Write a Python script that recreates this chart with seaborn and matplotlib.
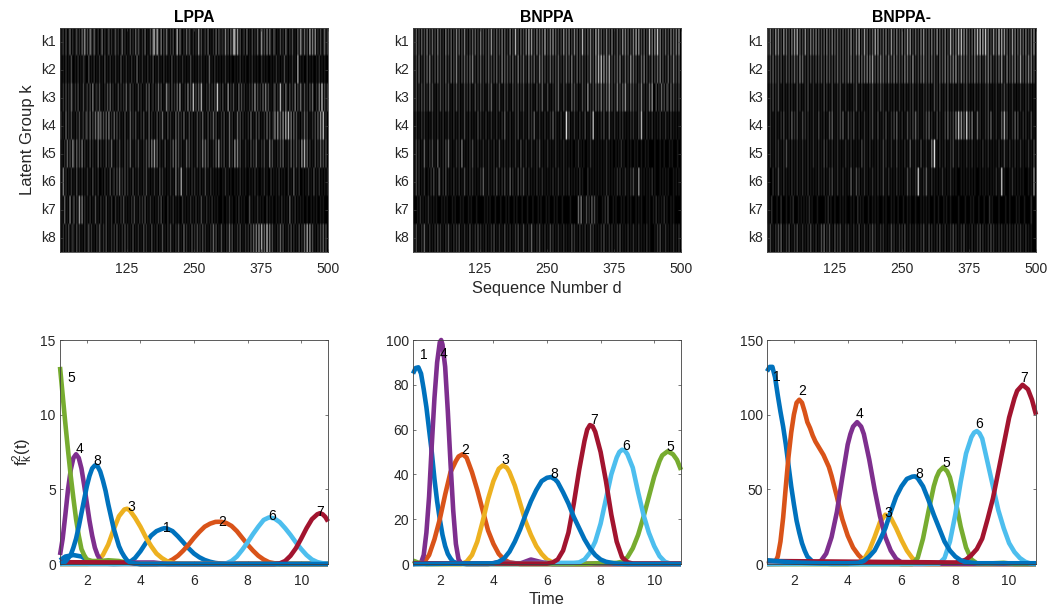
import numpy as np
import matplotlib
matplotlib.use("Agg")
import matplotlib.pyplot as plt
import seaborn as sns

sns.set_style("white")
plt.rcParams["font.family"] = ["Liberation Sans", "DejaVu Sans"]
plt.rcParams["mathtext.default"] = "regular"

TXT = "#262626"
COLORS = ["#0072BD", "#D95319", "#EDB120", "#7E2F8E", "#77AC30", "#4DBEEE", "#A2142F", "#0072BD"]
row_names = ["k1", "k2", "k3", "k4", "k5", "k6", "k7", "k8"]
d_ticks = [125, 250, 375, 500]
time_ticks = [2, 4, 6, 8, 10]

# brightness, one digit per 2.5 sequence numbers
lppa_rows = [
    "0120301402 0130204160 3052041020 1402013020 1302014020 1030204031 0204010305 6072050304 1020301704 1020403102 0206030120 4010204031 1205030406 7060301204 0103020401 6030504103 2010302041 0203010405 2040307050 6020301402",
    "1010201030 0102010210 0301020102 0103010201 0201030102 0102010401 0201020103 0102010201 0103010201 0201010301 0102020101 0401020101 0102010100 1010201010 0102010100 2010100101 0201010301 0102010701 0100201010 0102010100",
    "1020302041 0203010301 2030501203 0102030402 0103020204 0130201030 2010304012 0204030105 1203020406 0102050308 0304070102 0302030802 0301060203 0104030201 0203060302 0405030102 3020702041 0302050304 1030203040 0205080302",
    "3010402030 1020301203 2040304052 4030405020 4030201030 1040203010 2030104020 1030204010 3020104030 2040103020 1030204010 3020403010 2030104020 1040302010 2040103030 1020403012 5060406070 7050403010 2040301020 3040608020",
    "0102040305 2040305020 1030201040 2010302040 1020301030 2040102030 1020304050 6040201030 1020405030 2010403020 1030205040 3010204060 2030104020 6050301020 1030204010 2030105030 1020304010 2040303020 6070402010 3020403030",
    "1050201020 1030102010 2010301020 0102010301 2030402030 2010301020 1020301010 2010302010 1020105020 7010201020 2010201030 1020101010 0102010100 1010201010 0101020100 1020100201 0102010100 2010401020 0101020103 0102010101",
    "0104010501 3020605020 1020103010 2010301020 0201020301 0102030102 0203010201 0102030100 2010201010 0201010201 0201030102 0102010100 0100102010 0102010100 0301010201 0100201010 0101020101 0401020101 0100100101 0100101000",
    "1020203012 1030201020 1302010203 1020301020 2030102030 2010301020 1030201030 1020103010 2030102030 1040201030 2030203020 1020403010 3010204030 1020301020 2030405060 7040805030 1020403010 2030201030 2040706030 1020304030",
]
bnppa_rows = [
    "3040304030 5030403050 3020503040 3050403050 2030404030 5030304060 3040305040 2050307030 4030507060 3050404070 3050604030 3060405030 5040307030 4050307060 4030503050 2040306050 4030507060 3040307050 6080503040 3050405060",
    "2030402030 4050203040 3020402040 3050203040 3040502030 4020304030 3040205040 3030402050 3040205030 4020504030 2040303040 2030403050 2040303020 3050306070 8060507030 3040502040 3060403020 4050302040 3040503020 4030503040",
    "2030203030 2040301020 3020303010 2030201030 2030103020 3020103040 1020301030 2010302030 2030103020 1030204010 3010203040 1030201040 3020103020 6020304030 5030406030 2050304060 2040302030 5020204060 0302040303 2040302030",
    "1020102020 1010201020 1020102010 2010201030 1020101030 2010201020 1020102040 1020102030 1020103020 4010201020 1020402010 2010903010 2010201030 1020801010 2030104010 2010202010 1020201030 7010201020 1010201020 1020101010",
    "1030201040 1020301040 1020304010 1020205010 1020301020 1020102010 2010301020 1020102010 3010201020 1020301010 2010102010 1020101010 0102010100 1020101010 1010201010 0101020100 1010010100 1001010000 1000100100 0101000100",
    "1030201020 0102030104 1020301010 2010201030 1020201010 2040102010 2030102030 1040201030 2030102010 1020102010 1010201020 1020102010 1010201000 2010101010 1010201010 1020201020 1020301060 1010101020 1000101010 1000101010",
    "0001020101 0201010100 0101010001 0100010100 0101000100 0001010100 0100010001 0100010100 0100010001 0001010001 0100010100 0100000100 0004050103 0204030100 0102030001 0100010100 1010001010 1000101001 0201010201 0010100000",
    "2030102040 1020102030 2010203010 2020301020 1030102030 2010201020 3010201030 1020102030 1030102040 1020301020 1030201020 1020101030 2010201020 1030201010 2030102020 1020301010 2010201020 1010201000 1020301020 1010201020",
]
bnppa2_rows = [
    "4050306050 3060403050 6070403060 3050405040 3040503050 4040304030 4060305070 3060403040 7060304050 3060405030 5040606030 4030506030 4050306040 3050307040 5070806050 3040607080 7080503060 4080706040 3060504050 4050305060",
    "2030403030 3020303030 4030504020 3030203030 3030403030 3040304030 4050303050 4040505060 3040504030 5030504030 3050403060 2030405030 4040302040 3050404050 6030504040 3030503040 2040504020 3040602050 3040503060 3040505030",
    "1020302030 1020102020 1030201020 3010201020 1030201030 1020301020 1010203010 2010102030 1020302010 2010201020 1020102030 1020102020 2010302030 1020301020 1020102030 1010201020 1020301010 2010203020 1020101020 1020201010",
    "1020102010 2030102040 2030103020 2010201030 1020103040 1020304010 3020301020 1020102030 1030102030 1020304010 2010302030 4020102030 4020103020 1030402030 5080604090 3050104020 1020304010 2010407030 1020403010 2020103010",
    "1020102020 1020301020 1020102010 2010201020 1030201020 1020101020 1020101010 3020102010 1020103020 1020103010 1020104010 2010301020 1050901020 1020102030 1020101020 1020101010 2010201010 1020103010 2010201020 1010201030",
    "0100201030 1020101020 1020102010 2010101020 1020102030 1020102010 1040103020 1020101020 1020103010 2010102010 1010302010 2080102040 1020101010 2010102010 1000101010 1010100010 1010101010 2010801000 1020101010 1000101060",
    "0102000100 2000100102 0001010101 0201000100 0001020100 1000101010 0010100201 0100010010 1010001010 0010100100 0100101000 1000101010 1000100100 0101001000 0010000100 0101000100 0100020100 0010000100 1000010100 0100002000",
    "2030102030 4010203010 2030102010 2030102010 3040203010 3020301020 2010201030 1020102030 2010202010 1030201020 2030102010 2010203010 3020102030 1020102030 2010203010 1020102030 2010203020 1020201020 2010202020 1020101000",
]

# LPPA curves
l_t1 = [1, 1.2, 1.5, 1.8, 2.1, 2.4, 3, 3.4, 3.6, 3.8, 4, 4.2, 4.4, 4.6, 4.8, 4.9, 5, 5.2, 5.4, 5.6, 5.8, 6, 6.2, 6.4, 6.6, 6.8, 7, 7.4, 11]
l_v1 = [.25, .5, .6, .5, .2, .05, 0, .02, .12, .4, .85, 1.4, 1.9, 2.2, 2.35, 2.4, 2.37, 2.2, 1.85, 1.45, 1.05, .7, .45, .27, .15, .07, .03, 0, 0]
l_t2 = [1, 4.6, 4.8, 5, 5.2, 5.4, 5.6, 5.8, 6, 6.2, 6.4, 6.6, 6.8, 7, 7.2, 7.4, 7.6, 7.8, 8, 8.2, 8.4, 8.6, 8.8, 9, 9.2, 11]
l_v2 = [0, 0, .03, .12, .3, .55, .9, 1.3, 1.75, 2.15, 2.5, 2.7, 2.82, 2.83, 2.75, 2.55, 2.2, 1.75, 1.3, .9, .55, .3, .12, .05, 0, 0]
l_t3 = [1, 2, 2.2, 2.4, 2.6, 2.8, 3, 3.2, 3.4, 3.5, 3.6, 3.8, 4, 4.2, 4.4, 4.6, 4.8, 5, 5.2, 5.5, 6, 11]
l_v3 = [0, 0, .03, .2, .6, 1.3, 2.3, 3.2, 3.65, 3.7, 3.6, 3.1, 2.5, 1.8, 1.2, .7, .4, .18, .08, .01, 0, 0]
l_t4 = [1, 1.1, 1.2, 1.3, 1.4, 1.5, 1.6, 1.7, 1.8, 1.9, 2, 2.1, 2.2, 2.3, 2.4, 2.5, 2.6, 2.8, 3.5, 4.5, 5, 11]
l_v4 = [.6, 1.7, 3.3, 5, 6.3, 7.1, 7.35, 7.1, 6.4, 5.3, 4.1, 2.9, 1.9, 1.1, .6, .3, .12, .02, .1, .1, 0, 0]
l_t5 = [1, 1.1, 1.2, 1.3, 1.4, 1.5, 1.6, 1.7, 1.8, 1.9, 2, 2.2, 2.5, 2.8, 3.2, 3.6, 4, 11]
l_v5 = [13.2, 11.3, 9.4, 7.6, 5.9, 4.4, 3, 1.9, 1, .6, .3, .2, .2, .25, .2, .05, 0, 0]
l_t6 = [1, 7, 7.2, 7.4, 7.6, 7.8, 8, 8.2, 8.4, 8.6, 8.8, 9, 9.2, 9.4, 9.6, 9.8, 10, 10.2, 10.4, 10.6, 10.8, 11]
l_v6 = [0, 0, .04, .2, .5, .95, 1.45, 2, 2.5, 2.95, 3.12, 3.05, 2.8, 2.4, 1.95, 1.45, 1, .6, .3, .13, .05, .01]
l_t7 = [1, 3.5, 4, 9, 9.2, 9.4, 9.6, 9.8, 10, 10.2, 10.4, 10.6, 10.7, 10.8, 10.9, 11]
l_v7 = [.12, .1, 0, 0, .04, .2, .55, 1.05, 1.7, 2.4, 3, 3.33, 3.4, 3.33, 3.15, 2.85]
l_t8 = [1, 1.2, 1.4, 1.5, 1.6, 1.7, 1.8, 1.9, 2, 2.1, 2.2, 2.3, 2.4, 2.5, 2.6, 2.7, 2.8, 2.9, 3, 3.1, 3.2, 3.3, 3.4, 3.5, 3.6, 3.8, 4, 11]
l_v8 = [.05, .15, .6, 1.1, 1.7, 2.5, 3.4, 4.3, 5.2, 5.9, 6.4, 6.6, 6.55, 6.2, 5.6, 4.9, 4, 3.2, 2.4, 1.8, 1.2, .8, .5, .25, .12, .03, 0, 0]

# BNPPA curves
b_t1 = [1, 1.1, 1.2, 1.3, 1.4, 1.5, 1.6, 1.7, 1.8, 1.9, 2, 2.1, 2.2, 2.3, 2.4, 2.5, 2.7, 3, 11]
b_v1 = [85, 87.5, 87.8, 85, 78, 70, 60, 50, 38, 28, 20, 13, 8, 4.5, 2.5, 1, .2, 0, 0]
b_t2 = [1, 1.4, 1.6, 1.8, 2, 2.2, 2.4, 2.6, 2.7, 2.85, 3, 3.2, 3.4, 3.6, 3.8, 4, 4.2, 4.4, 4.6, 5, 11]
b_v2 = [0, .5, 4, 11, 20, 31, 41, 46, 48, 49, 47.5, 41, 33, 24, 15, 9, 4.5, 2, .7, 0, 0]
b_t3 = [1, 2.8, 3, 3.2, 3.4, 3.6, 3.8, 4, 4.2, 4.35, 4.5, 4.6, 4.8, 5, 5.2, 5.4, 5.6, 5.8, 6, 6.2, 6.5, 7, 11]
b_v3 = [0, 0, 1, 4, 10, 19, 29, 37, 42.5, 44, 43, 41, 35, 27, 19, 13, 8, 4.5, 2, .8, .1, 0, 0]
b_t4 = [1, 1.3, 1.4, 1.5, 1.6, 1.7, 1.8, 1.9, 2, 2.05, 2.1, 2.2, 2.3, 2.4, 2.5, 2.6, 2.7, 2.8, 3, 3.8, 4.2, 5, 5.4, 5.8, 6.2, 11]
b_v4 = [0, .5, 4, 14, 30, 53, 74, 90, 99, 100, 98, 88, 68, 45, 24, 9, 2, .3, 0, 0, .8, .2, 2, .8, 0, 0]
b_t5 = [1, 1.2, 1.5, 7.4, 7.8, 8.6, 8.8, 9, 9.2, 9.4, 9.6, 9.8, 10, 10.2, 10.3, 10.5, 10.7, 10.85, 11]
b_v5 = [1.5, .6, 0, 0, .3, .5, 1, 3, 7, 13, 21, 30, 39, 46, 48.5, 50.3, 49, 46.5, 42]
b_t6 = [1, 6.5, 7, 7.2, 7.4, 7.6, 7.8, 8, 8.2, 8.4, 8.6, 8.7, 8.8, 8.9, 9, 9.2, 9.4, 9.6, 9.8, 10, 10.2, 10.4, 10.6, 11]
b_v6 = [0, .5, .5, .7, 2, 5, 10, 18, 29, 40, 47.5, 50, 51, 50.7, 49, 43, 32, 22, 14, 8, 3.5, 1, .2, 0]
b_t7 = [1, 6, 6.2, 6.4, 6.6, 6.8, 7, 7.2, 7.4, 7.5, 7.6, 7.7, 7.8, 8, 8.2, 8.4, 8.6, 8.8, 9, 9.2, 11]
b_v7 = [.3, .2, .6, 2, 6, 14, 27, 42, 55, 60, 62, 61.5, 59, 50, 37, 22, 10, 3, .8, .2, .2]
b_t8 = [1, 4, 4.2, 4.4, 4.6, 4.8, 5, 5.2, 5.4, 5.6, 5.8, 6, 6.15, 6.3, 6.4, 6.6, 6.8, 7, 7.2, 7.4, 7.6, 7.8, 8, 8.2, 8.5, 9, 11]
b_v8 = [0, .3, 1, 2.5, 5.5, 10, 15.5, 22, 28, 33, 37, 38.5, 38.8, 37.8, 36.5, 32, 27, 21, 16, 11, 7, 4, 2, 1, .3, 0, 0]

# BNPPA- curves
m_t1 = [1, 1.1, 1.2, 1.3, 1.4, 1.5, 1.6, 1.7, 1.8, 1.9, 2, 2.1, 2.2, 2.3, 2.4, 2.5, 2.7, 3, 3.4, 11]
m_v1 = [129, 132, 132, 125, 113, 102, 92, 80, 66, 52, 40, 29, 21, 14, 9, 5, 1.5, .5, 0, 0]
m_t2 = [1, 1.3, 1.4, 1.5, 1.6, 1.7, 1.8, 1.9, 2, 2.1, 2.2, 2.3, 2.4, 2.5, 2.6, 2.7, 2.8, 2.9, 3, 3.1, 3.2, 3.3, 3.4, 3.5, 3.6, 3.7, 3.8, 4, 4.2, 4.4, 4.6, 5, 5.5, 6, 11]
m_v2 = [0, 1, 5, 15, 31, 52, 72, 88, 100, 108, 110, 108, 102, 95, 91, 86, 82, 79, 76, 73, 69, 65, 59, 52, 45, 37, 30, 19, 11, 6, 2.5, .5, 1, 0, 0]
m_t3 = [1, 4, 4.4, 4.6, 4.8, 5, 5.2, 5.4, 5.6, 5.8, 6, 6.2, 6.4, 6.6, 6.8, 7, 11]
m_v3 = [0, 0, 1, 3, 9, 18, 28, 33, 31, 24, 16, 9, 4, 1, .2, 0, 0]
m_t4 = [1, 2.8, 3, 3.2, 3.4, 3.6, 3.8, 4, 4.1, 4.2, 4.35, 4.5, 4.6, 4.8, 5, 5.2, 5.4, 5.6, 5.8, 6, 6.3, 11]
m_v4 = [0, .5, 2, 7, 18, 35, 58, 80, 87, 92, 95, 92, 87, 70, 50, 32, 18, 9, 3.5, 1, .2, 0]
m_t5 = [1, 6.4, 6.6, 6.8, 7, 7.2, 7.3, 7.4, 7.55, 7.7, 7.8, 8, 8.2, 8.4, 8.6, 8.8, 9.2, 9.8, 10.2, 11]
m_v5 = [0, 0, 4, 17, 35, 52, 58, 62, 64.7, 62, 58, 43, 25, 11, 3, .5, .3, .8, 0, 0]
m_t6 = [1, 7.4, 7.6, 7.8, 8, 8.2, 8.4, 8.6, 8.7, 8.8, 8.9, 9, 9.2, 9.4, 9.6, 9.8, 10, 10.2, 10.4, 10.6, 10.8, 11]
m_v6 = [0, .3, 4, 15, 33, 55, 74, 85, 88, 89, 87.5, 84, 68, 52, 36, 24, 14, 8, 4, 1.5, .3, 0]
m_t7 = [1, 8, 8.2, 8.4, 8.6, 8.8, 9, 9.2, 9.4, 9.6, 9.8, 10, 10.2, 10.3, 10.5, 10.7, 10.85, 11]
m_v7 = [2, 1, 1.5, 3, 6, 10, 17, 30, 44, 62, 80, 98, 111, 116, 120, 117, 110, 100]
m_t8 = [1, 2, 3, 4, 4.4, 4.6, 4.8, 5, 5.2, 5.4, 5.6, 5.8, 6, 6.2, 6.4, 6.5, 6.6, 6.8, 7, 7.2, 7.4, 7.6, 7.8, 8, 8.2, 8.4, 8.8, 11]
m_v8 = [2.5, 1, .5, .5, .8, 2, 5, 9, 16, 24, 35, 45, 52, 57, 58.5, 58.7, 57.5, 52, 43, 33, 24, 15, 9, 5, 2.5, 1.3, .5, .5]

lppa_curves = [(l_t1, l_v1), (l_t2, l_v2), (l_t3, l_v3), (l_t4, l_v4), (l_t5, l_v5), (l_t6, l_v6), (l_t7, l_v7), (l_t8, l_v8)]
bnppa_curves = [(b_t1, b_v1), (b_t2, b_v2), (b_t3, b_v3), (b_t4, b_v4), (b_t5, b_v5), (b_t6, b_v6), (b_t7, b_v7), (b_t8, b_v8)]
bnppa2_curves = [(m_t1, m_v1), (m_t2, m_v2), (m_t3, m_v3), (m_t4, m_v4), (m_t5, m_v5), (m_t6, m_v6), (m_t7, m_v7), (m_t8, m_v8)]

W, H = 1049, 606
fig = plt.figure(figsize=(W / 100, H / 100), dpi=100, facecolor="white")


def px_axes(x0, y0, x1, y1):
    return fig.add_axes([x0 / W, 1 - y1 / H, (x1 - x0) / W, (y1 - y0) / H])


def box(ax):
    for s in ax.spines.values():
        s.set_visible(True)
        s.set_color("#404040")
        s.set_linewidth(0.6)
    ax.tick_params(direction="in", length=2.5, width=0.5, color="#404040", top=True, right=True,
                   bottom=True, left=True, labelsize=10, labelcolor=TXT, pad=3)
    ax.tick_params(axis="x", pad=7)


def draw_heat(ax, rows, title):
    grid = np.array([[int(c) for c in r.replace(" ", "")] for r in rows])
    nrow, ncol = grid.shape
    sns.heatmap(grid, ax=ax, cmap="gray", vmin=0, vmax=10, cbar=False, xticklabels=False, yticklabels=row_names)
    # the mesh snaps the thin columns to whole pixels, so show the same cells as a smoothed image
    mesh = ax.collections[0]
    mesh.set_visible(False)
    ax.imshow(np.repeat(grid, 12, axis=0), cmap="gray", vmin=0, vmax=10, aspect="auto",
              extent=(0, ncol, nrow, 0), interpolation="bilinear")
    ax.set_xlim(0, ncol)
    ax.set_ylim(nrow, 0)
    ax.set_xticks([d / 500 * ncol for d in d_ticks])
    ax.set_xticklabels(d_ticks, rotation=0)
    ax.tick_params(axis="y", labelrotation=0)
    box(ax)
    ax.set_title(title, fontsize=11.3, fontweight="bold", color="black", pad=4)


def draw_curves(ax, curves, ymax, yticks, offsets):
    for i, (t, v) in enumerate(curves):
        sns.lineplot(x=t, y=v, ax=ax, color=COLORS[i], linewidth=3.3, errorbar=None, sort=False,
                     clip_on=False, solid_capstyle="butt")
    for i, (t, v) in enumerate(curves):
        # number sits next to the curve's highest point
        j = int(np.argmax(v))
        dx, dy = offsets.get(i + 1, (2.4, 3.6))
        ax.annotate(str(i + 1), (t[j], v[j]), xytext=(dx, dy), textcoords="offset points",
                    ha="center", va="center", fontsize=10, color="black", zorder=10)
    ax.set_xlim(1, 11)
    ax.set_ylim(0, ymax)
    ax.set_xticks(time_ticks)
    ax.set_yticks(yticks)
    box(ax)


ax1 = px_axes(60, 28, 328, 252)
ax2 = px_axes(413, 28, 681, 252)
ax3 = px_axes(767, 28, 1036, 252)
draw_heat(ax1, lppa_rows, "LPPA")
draw_heat(ax2, bnppa_rows, "BNPPA")
draw_heat(ax3, bnppa2_rows, "BNPPA-")
ax1.set_ylabel("Latent Group k", fontsize=12, color=TXT, labelpad=4)
ax2.set_xlabel("Sequence Number d", fontsize=11.7, color=TXT, labelpad=4)

ax4 = px_axes(60, 340, 328, 564)
ax5 = px_axes(413, 340, 681, 564)
ax6 = px_axes(767, 340, 1036, 564)
draw_curves(ax4, lppa_curves, 15, [0, 5, 10, 15], {5: (8, -8), 8: (2, 3), 1: (2, 0), 2: (1, 0), 6: (2, 1), 7: (0, 1), 3: (3, 1)})
draw_curves(ax5, bnppa_curves, 100, [0, 20, 40, 60, 80, 100], {1: (4, 9), 4: (2, -10), 2: (2, 3), 3: (2, 4), 6: (3, 3), 5: (2, 3), 7: (3, 4), 8: (2, 2)})
draw_curves(ax6, bnppa2_curves, 150, [0, 50, 100, 150], {1: (5, -7), 2: (2, 6), 4: (2, 6), 3: (2, 1), 8: (3, 2), 5: (2, 3), 6: (2, 5), 7: (1, 5)})
ax4.set_ylabel("f$_k^2$(t)", fontsize=12, color=TXT, labelpad=4)
ax5.set_xlabel("Time", fontsize=11.7, color=TXT, labelpad=3)

fig.savefig("out.png", dpi=100)
